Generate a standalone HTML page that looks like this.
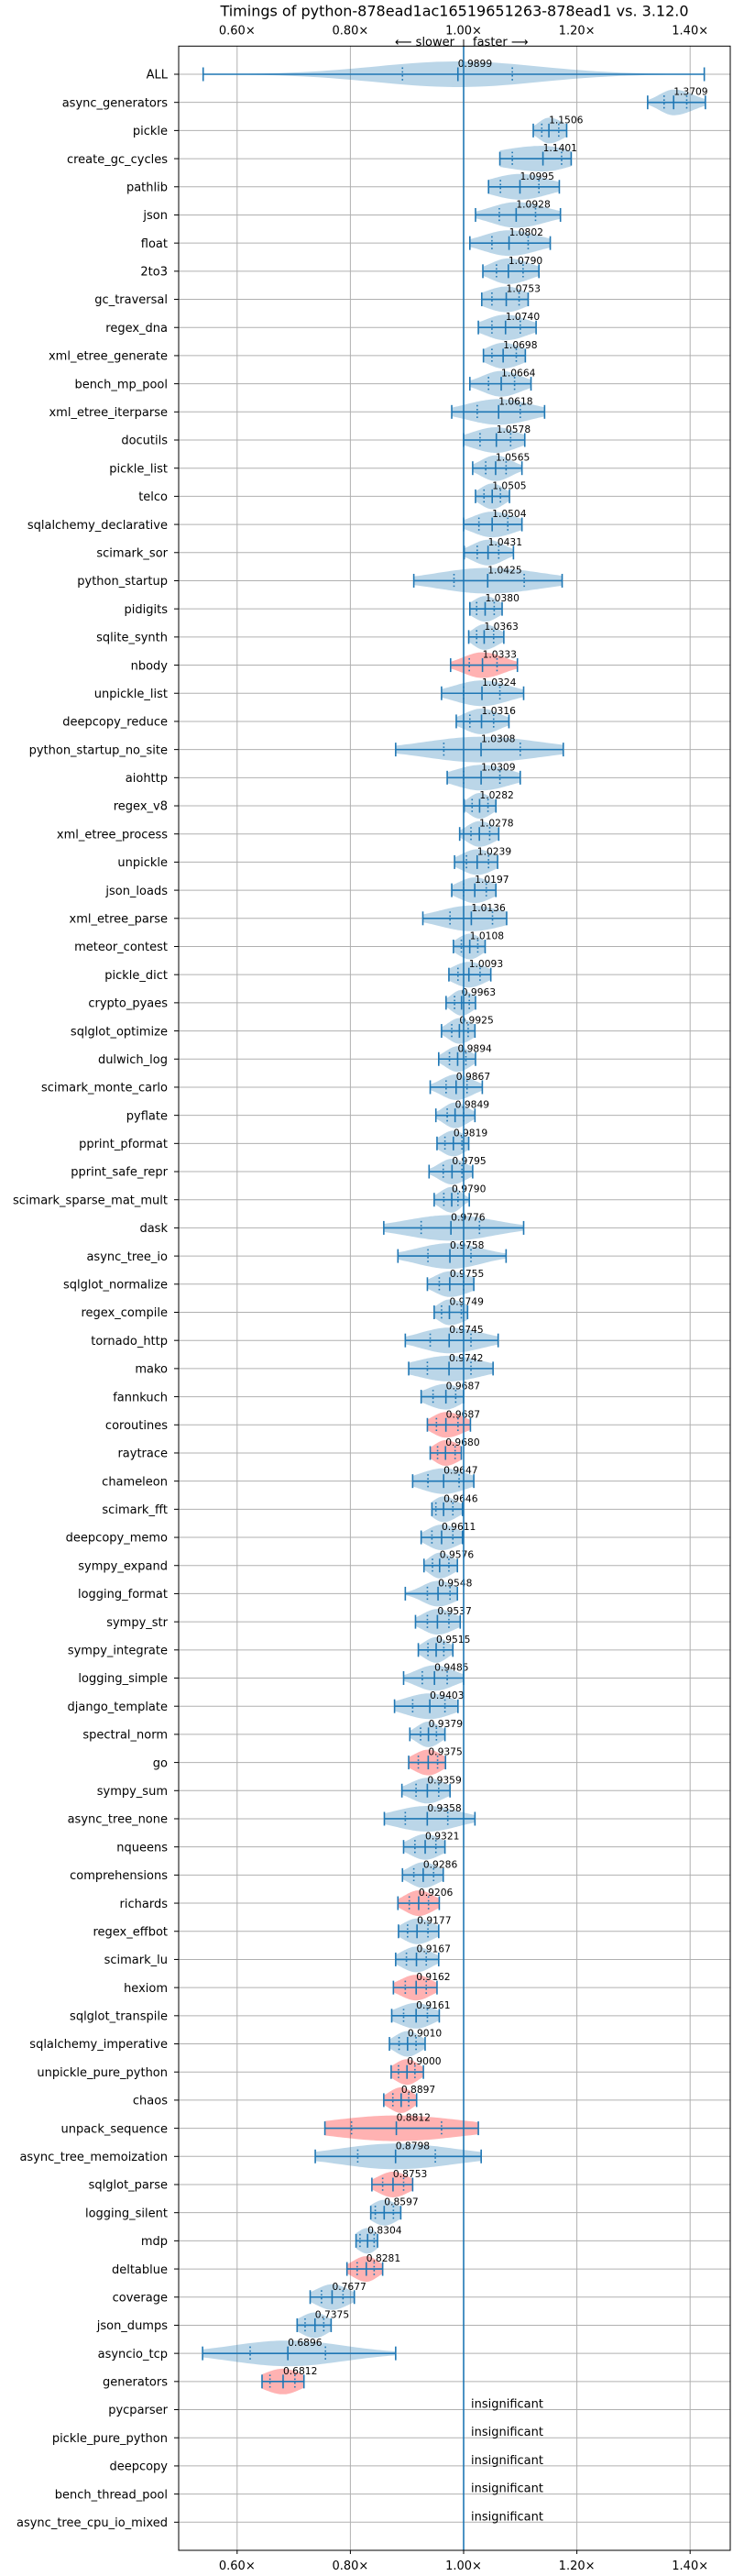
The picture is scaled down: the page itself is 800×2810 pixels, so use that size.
<!DOCTYPE html>
<html><head><meta charset="utf-8"><title>Timings chart</title>
<style>
html,body{margin:0;padding:0;background:#fff;}
svg{display:block;font-family:"DejaVu Sans","Liberation Sans",sans-serif;}
</style></head>
<body>
<svg id="chart" width="800" height="2810" viewBox="0 0 800 2810" xmlns="http://www.w3.org/2000/svg">
<rect x="0" y="0" width="800" height="2810" fill="#fff"/>
<text x="496" y="17.5" font-size="16" text-anchor="middle" fill="#000">Timings of python-878ead1ac16519651263-878ead1 vs. 3.12.0</text>
<g id="grid"></g>
<g id="marks"></g>
<g id="axes"></g>
</svg>
<script>
const benchmarks = ["ALL","async_generators","pickle","create_gc_cycles","pathlib","json","float","2to3","gc_traversal","regex_dna","xml_etree_generate","bench_mp_pool","xml_etree_iterparse","docutils","pickle_list","telco","sqlalchemy_declarative","scimark_sor","python_startup","pidigits","sqlite_synth","nbody","unpickle_list","deepcopy_reduce","python_startup_no_site","aiohttp","regex_v8","xml_etree_process","unpickle","json_loads","xml_etree_parse","meteor_contest","pickle_dict","crypto_pyaes","sqlglot_optimize","dulwich_log","scimark_monte_carlo","pyflate","pprint_pformat","pprint_safe_repr","scimark_sparse_mat_mult","dask","async_tree_io","sqlglot_normalize","regex_compile","tornado_http","mako","fannkuch","coroutines","raytrace","chameleon","scimark_fft","deepcopy_memo","sympy_expand","logging_format","sympy_str","sympy_integrate","logging_simple","django_template","spectral_norm","go","sympy_sum","async_tree_none","nqueens","comprehensions","richards","regex_effbot","scimark_lu","hexiom","sqlglot_transpile","sqlalchemy_imperative","unpickle_pure_python","chaos","unpack_sequence","async_tree_memoization","sqlglot_parse","logging_silent","mdp","deltablue","coverage","json_dumps","asyncio_tcp","generators","pycparser","pickle_pure_python","deepcopy","bench_thread_pool","async_tree_cpu_io_mixed"];
const medians = [0.9899,1.3709,1.1506,1.1401,1.0995,1.0928,1.0802,1.0790,1.0753,1.0740,1.0698,1.0664,1.0618,1.0578,1.0565,1.0505,1.0504,1.0431,1.0425,1.0380,1.0363,1.0333,1.0324,1.0316,1.0308,1.0309,1.0282,1.0278,1.0239,1.0197,1.0136,1.0108,1.0093,0.9963,0.9925,0.9894,0.9867,0.9849,0.9819,0.9795,0.9790,0.9776,0.9758,0.9755,0.9749,0.9745,0.9742,0.9687,0.9687,0.9680,0.9647,0.9646,0.9611,0.9576,0.9548,0.9537,0.9515,0.9485,0.9403,0.9379,0.9375,0.9359,0.9358,0.9321,0.9286,0.9206,0.9177,0.9167,0.9162,0.9161,0.9010,0.9000,0.8897,0.8812,0.8798,0.8753,0.8597,0.8304,0.8281,0.7677,0.7375,0.6896,0.6812,null,null,null,null,null];
const mins = [0.540,1.325,1.123,1.064,1.044,1.021,1.011,1.034,1.032,1.026,1.035,1.011,0.979,1.000,1.016,1.021,1.000,1.001,0.912,1.011,1.009,0.977,0.961,0.987,0.880,0.971,1.001,0.993,0.984,0.979,0.928,0.982,0.974,0.969,0.961,0.956,0.941,0.951,0.953,0.939,0.948,0.859,0.884,0.936,0.948,0.897,0.903,0.925,0.936,0.941,0.910,0.944,0.925,0.930,0.897,0.915,0.920,0.894,0.878,0.905,0.903,0.891,0.860,0.894,0.892,0.884,0.885,0.880,0.876,0.873,0.869,0.872,0.859,0.755,0.738,0.838,0.836,0.810,0.794,0.729,0.706,0.539,0.644,null,null,null,null,null];
const q1s = [0.892,1.354,1.138,1.086,1.065,1.063,1.050,1.058,1.050,1.050,1.050,1.044,1.024,1.029,1.039,1.036,1.027,1.024,0.983,1.023,1.023,1.010,1.000,1.011,0.965,1.000,1.015,1.013,1.005,1.000,0.976,0.996,0.990,0.984,0.979,0.975,0.969,0.971,0.967,0.964,0.965,0.925,0.937,0.957,0.961,0.941,0.936,0.946,0.952,0.954,0.937,0.951,0.944,0.945,0.936,0.936,0.937,0.927,0.910,0.924,0.920,0.916,0.897,0.914,0.912,0.904,0.901,0.899,0.897,0.894,0.886,0.885,0.875,0.802,0.813,0.857,0.844,0.817,0.812,0.749,0.720,0.623,0.658,null,null,null,null,null];
const q3s = [1.086,1.394,1.168,1.173,1.133,1.127,1.114,1.105,1.098,1.100,1.093,1.090,1.100,1.083,1.075,1.065,1.078,1.062,1.107,1.054,1.053,1.059,1.064,1.053,1.100,1.064,1.043,1.046,1.044,1.040,1.051,1.025,1.029,1.010,1.008,1.004,1.006,1.000,0.997,0.997,0.990,1.028,1.013,1.000,0.996,1.013,1.013,0.986,0.990,0.985,0.992,0.981,0.981,0.974,0.976,0.974,0.965,0.971,0.967,0.952,0.954,0.956,0.972,0.951,0.947,0.938,0.937,0.934,0.934,0.936,0.916,0.914,0.903,0.961,0.950,0.894,0.876,0.842,0.842,0.787,0.753,0.756,0.702,null,null,null,null,null];
const maxs = [1.425,1.427,1.182,1.190,1.169,1.171,1.153,1.133,1.114,1.128,1.109,1.119,1.143,1.108,1.103,1.081,1.103,1.088,1.174,1.068,1.071,1.095,1.106,1.080,1.176,1.100,1.057,1.062,1.060,1.057,1.076,1.038,1.048,1.021,1.020,1.021,1.033,1.020,1.009,1.016,1.010,1.106,1.075,1.018,1.007,1.061,1.052,1.000,1.012,0.996,1.018,0.998,0.998,0.989,0.989,0.994,0.981,1.000,0.990,0.967,0.968,0.976,1.020,0.967,0.964,0.957,0.956,0.956,0.953,0.957,0.932,0.929,0.917,1.026,1.031,0.910,0.889,0.848,0.857,0.807,0.766,0.880,0.718,null,null,null,null,null];
const redBenchmarks = ["nbody","coroutines","raytrace","go","richards","hexiom","unpickle_pure_python","chaos","unpack_sequence","sqlglot_parse","deltablue","generators"];
const xTickValues = [0.6,0.8,1.0,1.2,1.4];
const xTickLabels = ["0.60×","0.80×","1.00×","1.20×","1.40×"];

const NS = "http://www.w3.org/2000/svg";
const L = 195, R = 797, T = 50.3, B = 2782;
const step = (B - T) / (benchmarks.length + 1);
function xs(v){ return 506 + (v - 1) * 618; }
function ys(i){ return T + (i + 1) * step; }
function mk(tag, attrs, parent){
  const e = document.createElementNS(NS, tag);
  for (const k in attrs) e.setAttribute(k, attrs[k]);
  parent.appendChild(e);
  return e;
}
const grid = document.getElementById('grid');
const marks = document.getElementById('marks');
const axes = document.getElementById('axes');
const BLUE = "#1f77b4";

// vertical gridlines
xTickValues.forEach((v, k) => {
  const g = mk('line', {x1: xs(v), x2: xs(v), y1: T, y2: B, stroke: '#b0b0b0', 'stroke-width': 1}, grid);
  
  
  const t1 = mk('text', {x: xs(v), y: 37.5, 'font-size': 13, 'text-anchor': 'middle', fill: '#000'}, axes);
  t1.textContent = xTickLabels[k];
  
  
  const t2 = mk('text', {x: xs(v), y: 2803, 'font-size': 13, 'text-anchor': 'middle', fill: '#000'}, axes);
  t2.textContent = xTickLabels[k];
  
  
  const tk = mk('line', {x1: xs(v), x2: xs(v), y1: B, y2: B + 4, stroke: '#000', 'stroke-width': 1}, axes);
  
  
});

// rows
benchmarks.forEach((name, i) => {
  const y = ys(i);
  const gl = mk('line', {x1: L, x2: R, y1: y, y2: y, stroke: '#b0b0b0', 'stroke-width': 1}, grid);
  
  
  const lab = mk('text', {x: 183, y: y + 4.7, 'font-size': 13, 'text-anchor': 'end', fill: '#000'}, axes);
  lab.textContent = name;
  
  
  const tk = mk('line', {x1: 190, x2: L, y1: y, y2: y, stroke: '#000', 'stroke-width': 1}, axes);
  
  

  const med = medians[i];
  if (med === null) {
    const ins = mk('text', {x: 514, y: y - 2, 'font-size': 13, fill: '#000'}, marks);
    ins.textContent = 'insignificant';
    
    
    return;
  }
  const mn = mins[i], mx = maxs[i], q1 = q1s[i], q3 = q3s[i];
  const sigL = Math.max((med - q1) / 0.674, 0.002), sigR = Math.max((q3 - med) / 0.674, 0.002);
  const N = 60, top = [], bot = [];
  for (let k = 0; k <= N; k++) {
    const v = mn + (mx - mn) * k / N;
    const s = v < med ? sigL : sigR;
    const h = 14 * Math.exp(-0.5 * Math.pow((v - med) / s, 2));
    top.push(xs(v).toFixed(1) + ',' + (y - h).toFixed(1));
    bot.unshift(xs(v).toFixed(1) + ',' + (y + h).toFixed(1));
  }
  const red = redBenchmarks.indexOf(name) >= 0;
  const vio = mk('polygon', {points: top.concat(bot).join(' '), fill: red ? '#ff0000' : BLUE, 'fill-opacity': 0.3}, marks);
  
  
  const wl = mk('line', {x1: xs(mn), x2: xs(mx), y1: y, y2: y, stroke: BLUE, 'stroke-width': 1.6}, marks);
  
  
  [mn, mx, med].forEach(v => {
    const c = mk('line', {x1: xs(v), x2: xs(v), y1: y - 7.5, y2: y + 7.5, stroke: BLUE, 'stroke-width': 1.6}, marks);
    
    
  });
  [q1, q3].forEach(v => {
    const c = mk('line', {x1: xs(v), x2: xs(v), y1: y - 7.5, y2: y + 7.5, stroke: BLUE, 'stroke-width': 1.6, 'stroke-dasharray': '1.6 2.6'}, marks);
    
    
  });
  const ann = mk('text', {x: xs(med), y: y - 8, 'font-size': 10.7, fill: '#000'}, marks);
  ann.textContent = med.toFixed(4);
  
  
});

// baseline at 1.0
const base = mk('line', {x1: xs(1), x2: xs(1), y1: T, y2: B, stroke: BLUE, 'stroke-width': 1.6}, marks);



// spines
const frame = mk('rect', {x: L, y: T, width: R - L, height: B - T, fill: 'none', stroke: '#000', 'stroke-width': 1}, axes);



// slower / faster
const sl = mk('text', {x: 496, y: 50, 'font-size': 13, 'text-anchor': 'end', fill: '#000'}, axes);
sl.textContent = '⟵ slower';


const fa = mk('text', {x: 516, y: 50, 'font-size': 13, fill: '#000'}, axes);
fa.textContent = 'faster ⟶';


const sep = mk('line', {x1: 506, x2: 506, y1: 43, y2: 50, stroke: '#000', 'stroke-width': 1}, axes);


</script>
</body></html>
